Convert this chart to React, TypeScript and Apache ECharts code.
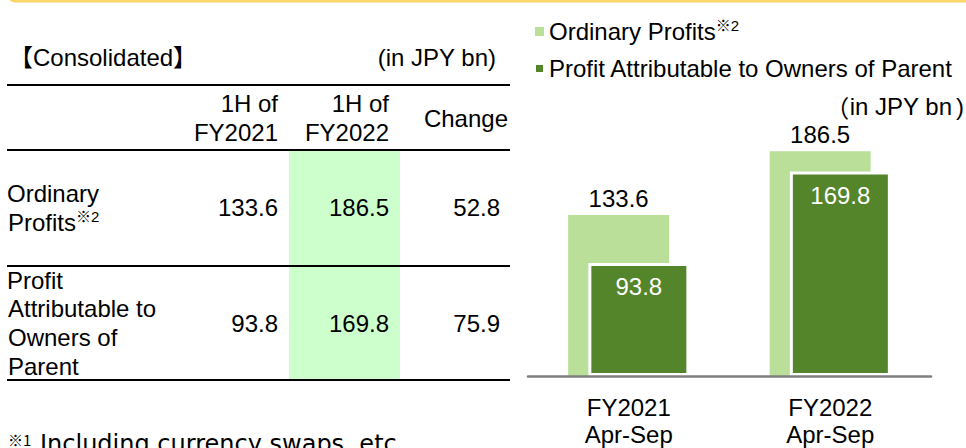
import React, { useEffect, useRef } from "react";
import * as echarts from "echarts";

const categories = ["FY2021\nApr-Sep", "FY2022\nApr-Sep"];
const ordinaryProfits = [133.6, 186.5];
const profitOwners = [93.8, 169.8];
const seriesNames = ["Ordinary Profits", "Profit Attributable to Owners of Parent"];

const tableHeaders = [["1H of", "FY2021"], ["1H of", "FY2022"], ["Change"]];
const rowLabels = [["Ordinary", "Profits"], ["Profit", "Attributable to", "Owners of", "Parent"]];
const fy2021Values = [133.6, 93.8];
const fy2022Values = [186.5, 169.8];
const changeValues = [52.8, 75.9];

const FONT = '"Liberation Sans", Arial, "Noto Sans CJK JP", sans-serif';
const CJK = '"Noto Sans CJK JP", "Liberation Sans", sans-serif';
const FS = 24;
const LIGHT = "#B9DF98";
const DARK = "#54852A";

const richSup = {
  a: { fontSize: FS, fontFamily: FONT, color: "#000", lineHeight: 27 },
  s: { fontSize: 15, fontFamily: FONT, color: "#000", lineHeight: 15, verticalAlign: "top" },
};

function txt(x: number, y: number, text: string, align: string, extra: any = {}) {
  return {
    type: "text",
    x,
    y,
    silent: true,
    style: {
      text,
      fontSize: FS,
      fontFamily: FONT,
      fill: "#000",
      align,
      verticalAlign: "middle",
      ...extra,
    },
  };
}

function hline(y: number) {
  return {
    type: "line",
    silent: true,
    shape: { x1: 7, y1: y, x2: 510, y2: y },
    style: { stroke: "#000", lineWidth: 2 },
  };
}

export default function App() {
  const ref = useRef<HTMLDivElement>(null);
  useEffect(() => {
    document.body.style.margin = "0";
    if (!ref.current) return;
    const chart = echarts.init(ref.current, undefined, { renderer: "svg" });

    const colRight = [278, 389, 500];
    const graphics: any[] = [];
    graphics.push({
      type: "rect",
      silent: true,
      shape: { x: 8, y: -12, width: 970, height: 14.5, r: 9 },
      style: { fill: "#F9D66A" },
    });
    graphics.push({
      type: "rect",
      silent: true,
      shape: { x: 289, y: 151, width: 111, height: 229 },
      style: { fill: "#CCFFCC" },
    });
    graphics.push(txt(9, 57, "【Consolidated】", "left"));
    graphics.push(txt(496, 57, "(in JPY bn)", "right"));
    graphics.push(hline(85));
    graphics.push(hline(150));
    graphics.push(hline(266));
    graphics.push(hline(380));
    graphics.push(txt(colRight[0], 103, tableHeaders[0][0], "right"));
    graphics.push(txt(colRight[0], 132, tableHeaders[0][1], "right"));
    graphics.push(txt(colRight[1], 103, tableHeaders[1][0], "right"));
    graphics.push(txt(colRight[1], 132, tableHeaders[1][1], "right"));
    graphics.push(txt(508, 118, tableHeaders[2][0], "right"));
    graphics.push(txt(7, 193, rowLabels[0][0], "left"));
    graphics.push({
      type: "text",
      x: 8,
      y: 222,
      silent: true,
      style: {
        text: "{a|" + rowLabels[0][1] + "}{s|※2}",
        fontFamily: FONT,
        fontSize: FS,
        fill: "#000",
        align: "left",
        verticalAlign: "middle",
        rich: richSup,
      },
    });
    const row2Y = [280, 308, 337, 366];
    rowLabels[1].forEach((l, i) => graphics.push(txt(i === 0 ? 7 : 8, row2Y[i], l, "left")));
    const rowY = [207, 323];
    [fy2021Values, fy2022Values, changeValues].forEach((col, c) => {
      col.forEach((v, r) => graphics.push(txt(colRight[c], rowY[r], v.toFixed(1), "right")));
    });
    graphics.push({
      type: "text",
      x: 964,
      y: 106,
      silent: true,
      style: {
        text: "{l|（}{a|in JPY bn}{r|)}",
        fontFamily: FONT,
        fontSize: FS,
        fill: "#000",
        align: "right",
        verticalAlign: "middle",
        rich: {
          l: { fontSize: FS, fontFamily: CJK, color: "#000", lineHeight: 24 },
          a: { fontSize: FS, fontFamily: FONT, color: "#000", lineHeight: 24 },
          r: { fontSize: FS, fontFamily: FONT, color: "#000", lineHeight: 24, padding: [0, 0, 0, 4] },
        },
      },
    });
    graphics.push(txt(8, 439, "※1", "left", { fontSize: 15, fontFamily: CJK }));
    graphics.push(
      txt(40, 444, "Including currency swaps, etc.", "left", {
        fontSize: 24,
        fontFamily: '"DejaVu Sans", "Noto Sans CJK JP", sans-serif',
      })
    );

    chart.setOption({
      animation: false,
      grid: { left: 528, top: 135, width: 403, height: 246 },
      legend: {
        orient: "vertical",
        left: 529,
        top: 13,
        icon: "rect",
        itemWidth: 9,
        itemHeight: 9,
        itemGap: 13,
        selectedMode: false,
        data: seriesNames,
        formatter: (name: string) => (name === seriesNames[0] ? "{a|" + name + "}{s|※2}" : "{a|" + name + "}"),
        textStyle: {
          fontFamily: FONT,
          fontSize: FS,
          color: "#000",
          rich: richSup,
        },
      },
      xAxis: {
        type: "category",
        data: categories,
        z: 5,
        axisLine: { lineStyle: { color: "#808080", width: 2.5 } },
        axisTick: { show: false },
        axisLabel: { fontSize: FS, lineHeight: 27, color: "#000", fontFamily: FONT, margin: 18 },
      },
      yAxis: { type: "value", min: 0, max: 200, show: false, splitLine: { show: false } },
      series: [
        {
          type: "bar",
          name: seriesNames[0],
          data: ordinaryProfits,
          barWidth: 101,
          barGap: "-80%",
          itemStyle: { color: LIGHT },
          label: { show: true, position: "top", distance: 5, fontSize: FS, color: "#000", fontFamily: FONT },
        },
        {
          type: "bar",
          name: seriesNames[1],
          data: profitOwners,
          barWidth: 101,
          barGap: "-80%",
          itemStyle: { color: DARK, borderColor: "#fff", borderWidth: 3 },
          label: { show: true, position: "insideTop", distance: 12, fontSize: FS, color: "#fff", fontFamily: FONT },
        },
      ],
      graphic: graphics,
    });
    return () => chart.dispose();
  }, []);
  return <div ref={ref} style={{ width: 966, height: 448 }} />;
}
